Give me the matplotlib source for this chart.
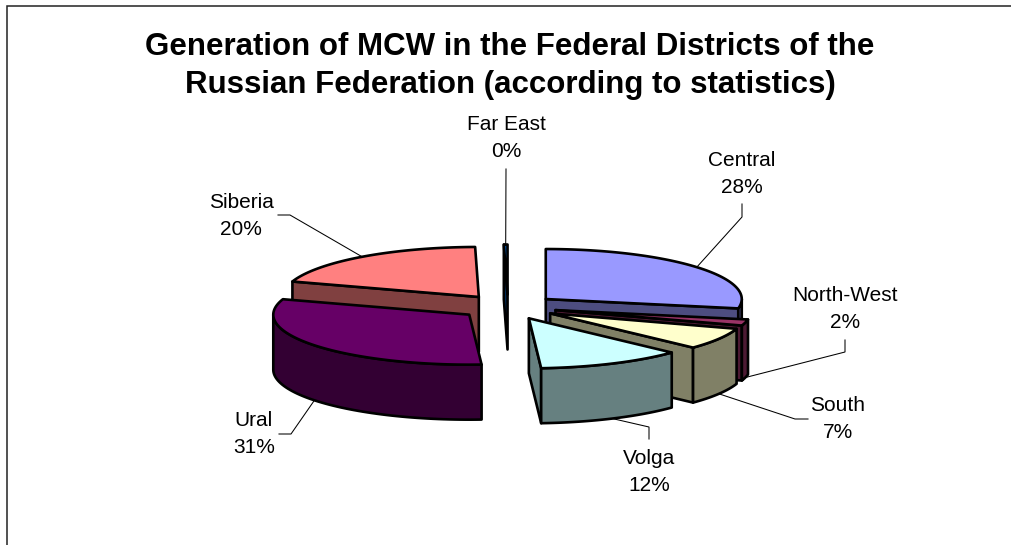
import numpy as np
import matplotlib
matplotlib.use("Agg")
import matplotlib.pyplot as plt
from matplotlib.patches import Polygon

title = "Generation of MCW in the Federal Districts of the\nRussian Federation (according to statistics)"
districts = ["Central", "North-West", "South", "Volga", "Ural", "Siberia", "Far East"]
shares = [28.0, 2.0, 7.0, 12.0, 31.0, 19.7, 0.3]
colors = ["#9999FF", "#993366", "#FFFFCC", "#CCFFFF", "#660066", "#FF8080", "#0066CC"]

# pie geometry in pixels
cx, cy = 508, 307
rx, ry = 196, 50
depth = 55
explode = 0.25
draw_order = [5, 6, 0, 1, 2, 3, 4]

# label centre and the elbow of its leader line
label_pos = [(742, 174), (845, 309), (838, 419), (649, 472), (254, 434), (241, 216), (506, 138)]
elbows = [[(742, 217), (742, 204)], [(845, 352), (845, 340)], [(795, 419), (808, 419)],
          [(649, 427), (649, 439)], [(291, 434), (279, 434)], [(290, 215), (278, 215)],
          [(506, 169)]]

fig = plt.figure(figsize=(10.11, 5.45), dpi=100)
ax = fig.add_axes([0, 0, 1, 1])
ax.set_xlim(0, 1011)
ax.set_ylim(545, 0)
ax.axis("off")
plt.rcParams["font.family"] = ["Liberation Sans", "DejaVu Sans"]

# chart frame, only the left and top edges are in the picture
ax.plot([7, 7, 1011], [545, 6, 6], color="#222222", lw=1.1, solid_joinstyle="miter")

edges = np.cumsum([0] + shares) / sum(shares) * 2 * np.pi


def rim(a, ox, oy):
    return ox + rx * np.sin(a), oy - ry * np.cos(a)


def face(pts, color, z):
    ax.add_patch(Polygon(pts, closed=True, facecolor=color, edgecolor="black", lw=1.9,
                         joinstyle="round", zorder=z))


def darker(color):
    return tuple(c * 0.5 for c in matplotlib.colors.to_rgb(color))


for z, i in enumerate(draw_order):
    a0, a1 = edges[i], edges[i + 1]
    mid = (a0 + a1) / 2
    ox = cx + explode * rx * np.sin(mid)
    oy = cy - explode * ry * np.cos(mid)
    side = darker(colors[i])
    z = 3 + z

    # radial faces towards the viewer
    if np.sin(a1) > 0:
        x, y = rim(a1, ox, oy)
        face([(ox, oy), (x, y), (x, y + depth), (ox, oy + depth)], side, z)
    if np.sin(a0) < 0:
        x, y = rim(a0, ox, oy)
        face([(ox, oy), (x, y), (x, y + depth), (ox, oy + depth)], side, z)

    # outer wall, only the front half of the ellipse shows
    w0, w1 = max(a0, np.pi / 2), min(a1, 3 * np.pi / 2)
    if w1 > w0:
        t = np.linspace(w0, w1, 60)
        x, y = rim(t, ox, oy)
        face(np.r_[np.c_[x, y], np.c_[x, y + depth][::-1]], side, z)

    # top
    t = np.linspace(a0, a1, 80)
    x, y = rim(t, ox, oy)
    face(np.r_[[(ox, oy)], np.c_[x, y]], colors[i], z)

    # leader line, starts on the slice at its middle angle
    sx, sy = rim(mid, ox, oy)
    if np.cos(mid) < 0:
        sy += depth
    ex = [sx] + [p[0] for p in elbows[i]]
    ey = [sy] + [p[1] for p in elbows[i]]
    ax.plot(ex, ey, color="black", lw=0.75, zorder=2, solid_joinstyle="miter")

    ax.text(label_pos[i][0], label_pos[i][1], f"{districts[i]}\n{round(shares[i])}%",
            ha="center", va="center", fontsize=15, linespacing=1.47, color="black", zorder=20)

ax.text(510, 66, title, ha="center", va="center", fontsize=22.5, fontweight="bold",
        linespacing=1.38, color="black")

fig.savefig("out.png", dpi=100)
